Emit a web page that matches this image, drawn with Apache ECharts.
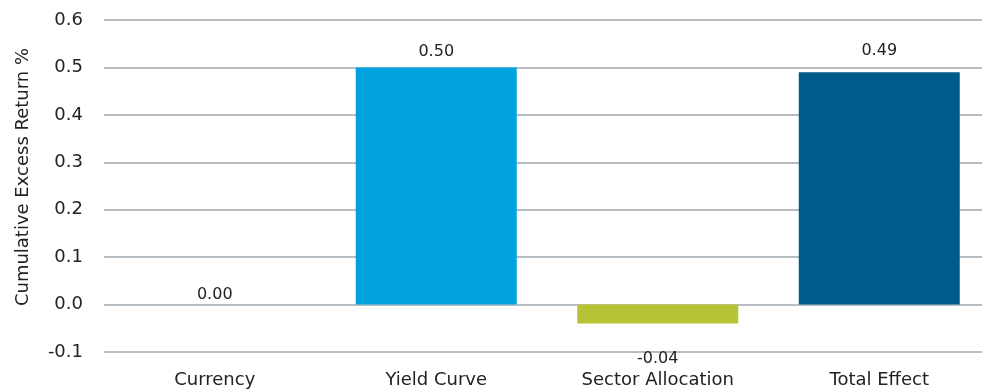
<!DOCTYPE html>
<html>
<head>
<meta charset="utf-8">
<script src="https://cdn.jsdelivr.net/npm/echarts@6/dist/echarts.min.js"></script>
<style>
html,body{margin:0;padding:0;background:#fff;}
#c{width:982px;height:389px;}
</style>
</head>
<body>
<div id="c"></div>
<script>
const categories = ['Currency', 'Yield Curve', 'Sector Allocation', 'Total Effect'];
const values = [0.00, 0.50, -0.04, 0.49];
const yTicks = { min: -0.1, max: 0.6, interval: 0.1 };
const yTitle = 'Cumulative Excess Return %';

const barColors = ['#00a3e0', '#00a3e0', '#b5c334', '#005b8c'];
const labelDist = [2, 8, 27, 13];
const FONT = 'DejaVu Sans';

const chart = echarts.init(document.getElementById('c'), null, { renderer: 'canvas' });
chart.setOption({
  animation: false,
  grid: { left: 104, width: 886, top: 20, bottom: 37, containLabel: false, outerBoundsMode: 'none' },
  xAxis: {
    type: 'category',
    data: categories,
    axisLine: { show: false },
    axisTick: { show: false },
    axisLabel: { color: '#222', fontFamily: FONT, fontSize: 18, margin: 19, interval: 0 }
  },
  yAxis: {
    type: 'value',
    min: yTicks.min, max: yTicks.max, interval: yTicks.interval,
    name: yTitle,
    nameLocation: 'middle',
    nameGap: 72,
    nameTextStyle: { color: '#222', fontFamily: FONT, fontSize: 18, padding: [0, 0, 0, 18] },
    axisLine: { show: false },
    axisTick: { show: false },
    axisLabel: { color: '#222', fontFamily: FONT, fontSize: 18, margin: 21,
      formatter: v => v.toFixed(1) },
    splitLine: { lineStyle: { color: '#9ea8b0', width: 1.5 } }
  },
  series: [{
    type: 'bar',
    barWidth: 161,
    data: values.map((v, i) => ({
      value: v,
      itemStyle: { color: barColors[i] },
      label: {
        show: true,
        position: v < 0 ? 'bottom' : 'top',
        distance: labelDist[i],
        formatter: p => p.value.toFixed(2),
        color: '#222', fontFamily: FONT, fontSize: 16
      }
    }))
  }]
});
</script>
</body>
</html>
